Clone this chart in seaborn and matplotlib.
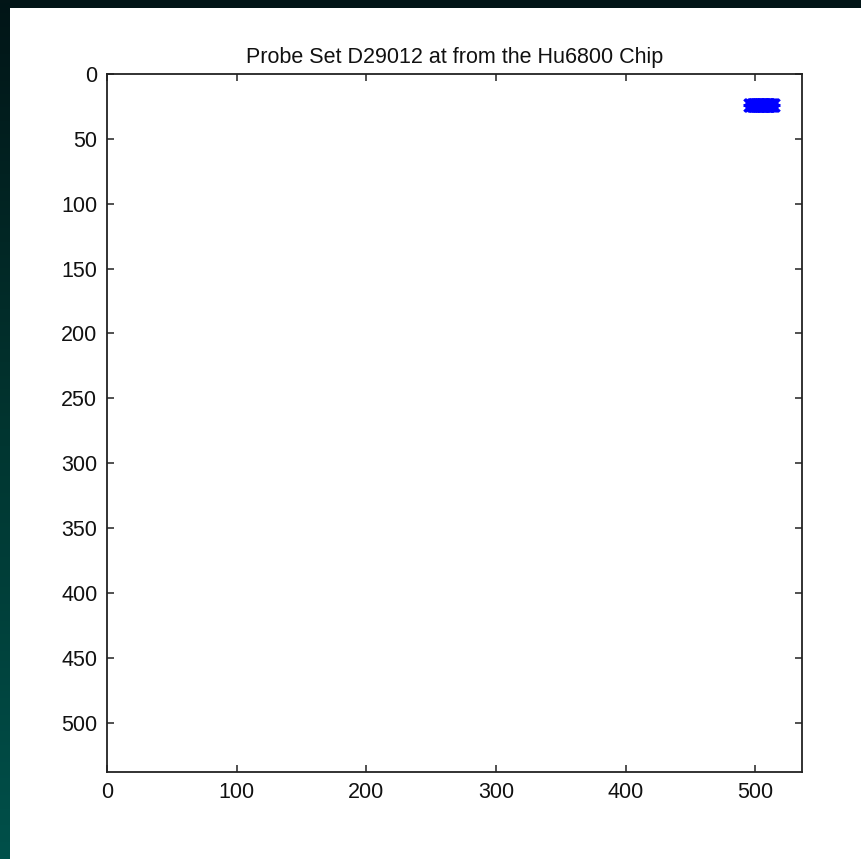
import numpy as np
import pandas as pd
import matplotlib
matplotlib.use("Agg")
import matplotlib.pyplot as plt
import seaborn as sns
from matplotlib.colors import LinearSegmentedColormap

# ---- data ----
title = "Probe Set D29012 at from the Hu6800 Chip"
probe_x = [496, 497, 498, 499, 500, 501, 502, 503, 504, 505, 506, 507, 508, 509, 510, 511, 512, 513, 514]
probe_y = [24] * len(probe_x)
x_ticks = [0, 100, 200, 300, 400, 500]
y_ticks = [0, 50, 100, 150, 200, 250, 300, 350, 400, 450, 500]
x_limits = (0, 536)
y_limits = (538, 0)

df = pd.DataFrame({"col": probe_x, "row": probe_y})

sns.set_style("ticks")
plt.rcParams["font.family"] = ["Liberation Sans", "DejaVu Sans"]

W, H = 861, 859
fig = plt.figure(figsize=(W / 100, H / 100), dpi=100, facecolor="white")

# decorative dark frame strips (top and left)
top = fig.add_axes([0, 1 - 8 / H, 1, 8 / H])
top.set_axis_off()
top.add_patch(plt.Rectangle((0, 0), 1, 1, color="#021517", transform=top.transAxes))
left = fig.add_axes([0, 0, 10 / W, 1])
grad = np.linspace(0, 1, 256).reshape(-1, 1)
cmap = LinearSegmentedColormap.from_list("frame", ["#021517", "#013530", "#00504a"])
left.imshow(grad, aspect="auto", cmap=cmap, origin="upper", extent=[0, 1, 0, 1])
left.set_axis_off()

ax = fig.add_axes([107 / W, 1 - 772 / H, (802 - 107) / W, (772 - 74) / H])
ax.set_facecolor("white")
# MATLAB-like '*' marker: '+' and 'x' overlaid on a filled core
sns.scatterplot(data=df, x="col", y="row", ax=ax, marker="o", s=55,
                color="#0000ff", edgecolor="#0000ff", linewidth=0.5, legend=False, zorder=3)
sns.scatterplot(data=df, x="col", y="row", ax=ax, marker="+", s=115,
                color="#0000ff", linewidth=2.2, legend=False, zorder=3)
sns.scatterplot(data=df, x="col", y="row", ax=ax, marker="x", s=80,
                color="#0000ff", linewidth=2.2, legend=False, zorder=3)

ax.set_xlim(*x_limits)
ax.set_ylim(*y_limits)
ax.set_xticks(x_ticks)
ax.set_yticks(y_ticks)
ax.set_xlabel("")
ax.set_ylabel("")
ax.set_title(title, fontsize=15.5, pad=8, color="#111111")
for s in ax.spines.values():
    s.set_visible(True)
    s.set_color("#222222")
    s.set_linewidth(1.3)
ax.tick_params(direction="in", length=5, width=1.1, color="#222222",
               top=True, right=True, labelsize=15.5, pad=7, labelcolor="#111111")

fig.savefig("out.png", dpi=100, facecolor="white")
